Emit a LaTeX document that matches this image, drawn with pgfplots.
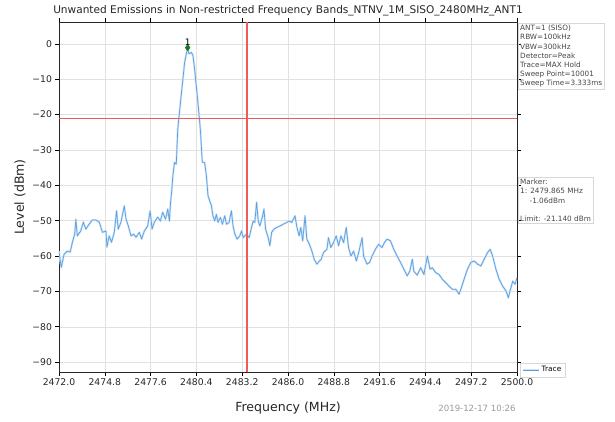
\documentclass[border=0pt]{standalone}
\usepackage{pgfplots}
\pgfplotsset{compat=1.18}
\usepackage{fontspec}
\setmainfont{DejaVu Sans}
\definecolor{tracec}{RGB}{90,160,225}
\definecolor{gridc}{RGB}{225,225,225}
\definecolor{limitc}{RGB}{240,90,90}
\definecolor{mkc}{RGB}{20,120,20}
\definecolor{boxc}{RGB}{215,215,215}
\definecolor{infoc}{RGB}{70,70,70}
\begin{document}
\begin{tikzpicture}[x=1bp,y=1bp]
\useasboundingbox (-59,-49) rectangle (556,372);
\begin{axis}[at={(0,0)}, anchor=south west, scale only axis,
  width=458bp, height=350bp,
  xmin=2472, xmax=2500, ymin=-92.8, ymax=6.2,
  xtick={2472.0,2474.8,2477.6,2480.4,2483.2,2486.0,2488.8,2491.6,2494.4,2497.2,2500.0},
  xticklabels={2472.0,2474.8,2477.6,2480.4,2483.2,2486.0,2488.8,2491.6,2494.4,2497.2,2500.0},
  ytick={-90,-80,-70,-60,-50,-40,-30,-20,-10,0},
  yticklabels={−90,−80,−70,−60,−50,−40,−30,−20,−10,0},
  grid=major, major grid style={draw=gridc, line width=0.5bp},
  tick align=outside, major tick length=3.5bp,
  tick style={black, line width=0.6bp},
  axis line style={line width=0.8bp, draw=black!85},
  ticklabel style={font=\fontsize{9.3}{10}\selectfont, text=black!85},
  /pgf/number format/assume math mode=true,
  legend style={at={(rel axis cs:1.0066,0.026)}, anchor=north west,
    draw=boxc, font=\fontsize{7.4}{8}\selectfont, inner sep=1.5bp,
    legend cell align=left},
  legend image code/.code={\draw[#1, line width=0.9bp] (0bp,0bp) -- (16bp,0bp);},
]
\addplot[color=tracec, line width=0.7bp, line join=round,
  preaction={draw, line width=2.0bp, color=tracec!30}] coordinates {
(2472.00,-58.6) (2472.05,-60.5) (2472.14,-63.2) (2472.31,-59.5) (2472.51,-58.6)
(2472.68,-58.9) (2472.82,-56.1) (2472.96,-53.8) (2473.03,-49.6) (2473.12,-54.3)
(2473.33,-52.9) (2473.49,-50.4) (2473.64,-52.4) (2473.84,-51.0) (2474.04,-49.8)
(2474.25,-49.8) (2474.46,-50.4) (2474.66,-53.3) (2474.87,-52.9) (2474.93,-57.5)
(2475.07,-54.3) (2475.21,-56.1) (2475.38,-53.3) (2475.52,-47.2) (2475.62,-52.4)
(2475.79,-50.4) (2475.99,-45.8) (2476.10,-49.6) (2476.24,-51.5) (2476.40,-54.3)
(2476.56,-53.8) (2476.71,-54.7) (2476.91,-53.3) (2477.05,-55.2) (2477.22,-52.9)
(2477.42,-51.5) (2477.57,-47.2) (2477.69,-52.4) (2477.83,-50.4) (2478.04,-49.0)
(2478.20,-50.1) (2478.34,-47.6) (2478.51,-49.6) (2478.65,-46.7) (2478.75,-50.1)
(2478.82,-44.8) (2478.90,-41.1) (2478.96,-37.3) (2479.06,-33.5) (2479.17,-34.0)
(2479.26,-24.1) (2479.47,-14.6) (2479.68,-5.2) (2479.865,-1.06) (2479.94,-2.8)
(2480.09,-2.4) (2480.19,-3.3) (2480.29,-7.1) (2480.49,-16.5) (2480.64,-24.1)
(2480.76,-33.5) (2480.90,-33.5) (2481.01,-37.3) (2481.11,-43.0) (2481.32,-45.8)
(2481.41,-48.6) (2481.52,-50.1) (2481.62,-48.2) (2481.72,-50.5) (2481.87,-49.1)
(2481.99,-51.0) (2482.13,-48.6) (2482.24,-51.0) (2482.40,-50.5) (2482.54,-47.2)
(2482.64,-51.5) (2482.75,-53.8) (2482.89,-55.2) (2483.05,-54.3) (2483.16,-52.9)
(2483.26,-54.8) (2483.46,-53.8) (2483.62,-54.8) (2483.77,-51.9) (2483.87,-50.1)
(2483.97,-50.5) (2484.08,-44.8) (2484.18,-50.1) (2484.28,-51.5) (2484.45,-48.6)
(2484.53,-46.7) (2484.63,-52.4) (2484.79,-54.8) (2484.89,-57.1) (2485.00,-53.3)
(2485.14,-52.4) (2485.31,-51.9) (2485.51,-51.5) (2485.71,-51.0) (2485.92,-50.5)
(2486.08,-50.1) (2486.23,-50.5) (2486.43,-48.6) (2486.53,-51.5) (2486.68,-54.3)
(2486.78,-51.9) (2486.90,-55.7) (2487.04,-48.6) (2487.15,-55.2) (2487.31,-56.7)
(2487.46,-58.6) (2487.60,-60.9) (2487.76,-62.3) (2487.92,-61.4) (2488.02,-61.0)
(2488.17,-59.0) (2488.38,-58.1) (2488.47,-54.8) (2488.62,-57.6) (2488.78,-56.2)
(2488.95,-54.3) (2489.09,-57.1) (2489.24,-54.3) (2489.40,-56.2) (2489.56,-51.9)
(2489.70,-57.6) (2489.85,-60.0) (2490.01,-58.6) (2490.18,-61.4) (2490.32,-59.0)
(2490.53,-54.8) (2490.62,-60.0) (2490.83,-62.3) (2490.99,-61.8) (2491.14,-60.0)
(2491.34,-58.1) (2491.54,-56.7) (2491.75,-57.6) (2491.89,-56.2) (2492.06,-55.2)
(2492.26,-55.7) (2492.47,-58.1) (2492.67,-60.0) (2492.88,-61.8) (2493.08,-63.7)
(2493.29,-65.6) (2493.45,-64.2) (2493.60,-60.9) (2493.69,-64.3) (2493.90,-65.4)
(2494.11,-63.3) (2494.31,-65.2) (2494.52,-60.0) (2494.68,-63.7) (2494.82,-63.3)
(2495.03,-64.7) (2495.23,-65.2) (2495.44,-66.6) (2495.64,-67.5) (2495.84,-68.5)
(2496.05,-69.4) (2496.25,-69.4) (2496.46,-70.8) (2496.60,-68.9) (2496.76,-66.6)
(2496.97,-63.7) (2497.18,-61.8) (2497.38,-61.4) (2497.59,-62.3) (2497.79,-62.8)
(2497.99,-60.9) (2498.20,-59.0) (2498.36,-58.1) (2498.51,-60.0) (2498.71,-63.7)
(2498.91,-66.6) (2499.12,-68.5) (2499.33,-69.9) (2499.47,-71.8) (2499.63,-68.9)
(2499.74,-67.1) (2499.88,-68.0) (2500.00,-66.1)
};
\addlegendentry{Trace}
\addplot[forget plot, draw=limitc, line width=1.4bp] coordinates {(2472,-21.14) (2500,-21.14)};
\addplot[forget plot, draw=limitc, line width=1.4bp] coordinates {(2483.5,-92.8) (2483.5,6.2)};
\addplot[forget plot, only marks, mark=diamond*, mark size=3.2bp, color=mkc,
  nodes near coords, point meta=explicit symbolic,
  every node near coord/.append style={font=\fontsize{9}{9}\selectfont, text=black, yshift=-1bp}]
  coordinates {(2479.865,-1.06) [1]};
\end{axis}
\node[font=\fontsize{10.6}{12}\selectfont, text=black!85] at (229,361) {Unwanted Emissions in Non-restricted Frequency Bands\_NTNV\_1M\_SISO\_2480MHz\_ANT1};
\node[font=\fontsize{12.6}{14}\selectfont, rotate=90, text=black!85] at (-39,175) {Level (dBm)};
\node[font=\fontsize{12.6}{14}\selectfont, text=black!85] at (229,-36) {Frequency (MHz)};
\node[font=\fontsize{8.6}{9}\selectfont, text=black!40] at (418,-36) {2019-12-17 10:26};
\node[anchor=north west, draw=boxc, align=left, inner sep=2bp, text=infoc,
  font=\fontsize{7.3}{9.2}\selectfont] at (459,349)
  {ANT=1 (SISO)\\RBW=100kHz\\VBW=300kHz\\Detector=Peak\\Trace=MAX Hold\\Sweep Point=10001\\Sweep Time=3.333ms};
\node[anchor=north west, draw=boxc, align=left, inner sep=2bp, text=infoc,
  font=\fontsize{7.3}{9.2}\selectfont] at (459,195)
  {Marker:\\1: 2479.865 MHz\\\hspace*{1.3em}-1.06dBm\\[9.2bp]Limit: -21.140 dBm};
\end{tikzpicture}
\end{document}
